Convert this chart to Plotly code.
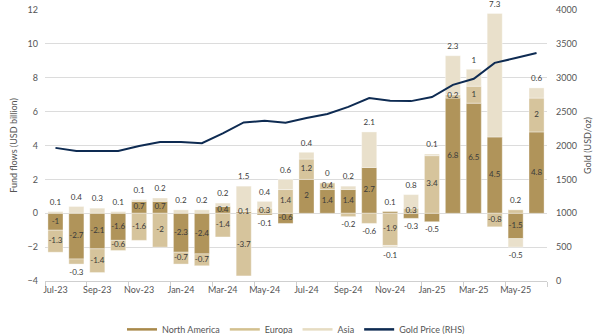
import plotly.graph_objects as go

months = ["Jul-23", "Aug-23", "Sep-23", "Oct-23", "Nov-23", "Dec-23",
          "Jan-24", "Feb-24", "Mar-24", "Apr-24", "May-24", "Jun-24",
          "Jul-24", "Aug-24", "Sep-24", "Oct-24", "Nov-24", "Dec-24",
          "Jan-25", "Feb-25", "Mar-25", "Apr-25", "May-25", "Jun-25"]
north_america = [-1, -2.7, -2.1, -1.6, 0.7, 0.7, -2.3, -2.4, 0.4, 0.1, -0.1, -0.6,
                 2, 1.4, 1.4, 2.7, 0.1, -0.3, -0.5, 6.8, 6.5, 4.5, -1.5, 4.8]
europa = [-1.3, -0.3, -1.4, -0.6, -1.6, -2, -0.7, -0.7, -1.4, -3.7, 0.3, 1.4,
          1.2, 0.4, -0.2, -0.6, -1.9, 0.3, 3.4, 0.2, 1, -0.8, 0.2, 2]
asia = [0.1, 0.4, 0.3, 0.1, 0.1, 0.2, 0.2, 0.2, 0.2, 1.5, 0.4, 0.6,
        0.4, 0, 0.2, 2.1, -0.1, 0.8, 0.1, 2.3, 1, 7.3, -0.5, 0.6]
gold_price = [1965, 1920, 1918, 1918, 1993, 2050, 2050, 2035, 2180, 2340, 2365, 2335,
              2405, 2465, 2570, 2700, 2660, 2655, 2715, 2895, 2985, 3220, 3290, 3365]

series = [("North America", north_america, "#b0945a", "#a8894a"),
          ("Europa", europa, "#d6c49c", "#d3c08f"),
          ("Asia", asia, "#e9e0cb", "#e6dcc2")]

# labels drawn beyond the end of their stack (style choice)
outside_labels = {("North America", "May-24"), ("North America", "Nov-24"),
                  ("North America", "Dec-24"), ("North America", "Jan-25"),
                  ("Europa", "Aug-23"), ("Europa", "Sep-24"), ("Europa", "Oct-24"),
                  ("Europa", "May-25")}

FONT = "Lato"
fig = go.Figure()

pos_base = [0.0] * len(months)
neg_base = [0.0] * len(months)
lab_in_x, lab_in_y, lab_in_t = [], [], []
lab_up_x, lab_up_y, lab_up_t = [], [], []
lab_dn_x, lab_dn_y, lab_dn_t = [], [], []

def fmt(v):
    return ("%g" % v)

for name, vals, col, _ in series:
    fig.add_trace(go.Bar(x=months, y=vals, name=name,
                         marker=dict(color=col, line=dict(width=0.8, color="rgba(255,255,255,0.45)")),
                         showlegend=False, hoverinfo="skip"))
    for i, v in enumerate(vals):
        if v >= 0:
            b = pos_base[i]; t = b + v; pos_base[i] = t
        else:
            b = neg_base[i]; t = b + v; neg_base[i] = t
        outside = name == "Asia" or (name, months[i]) in outside_labels
        if outside:
            if v >= 0:
                lab_up_x.append(months[i]); lab_up_y.append(t); lab_up_t.append(fmt(v))
            else:
                lab_dn_x.append(months[i]); lab_dn_y.append(t); lab_dn_t.append(fmt(v))
        else:
            lab_in_x.append(months[i]); lab_in_y.append((b + t) / 2); lab_in_t.append(fmt(v))

lab_font = dict(family=FONT, size=8, color="#3a3a3a")
fig.add_trace(go.Scatter(x=lab_in_x, y=lab_in_y, text=lab_in_t, mode="text",
                         textposition="middle center", textfont=lab_font,
                         showlegend=False, hoverinfo="skip", cliponaxis=False))
for xs, ys, ts, pos in [(lab_up_x, lab_up_y, lab_up_t, "top center"),
                        (lab_dn_x, lab_dn_y, lab_dn_t, "bottom center")]:
    fig.add_trace(go.Scatter(x=xs, y=ys, text=ts, mode="markers+text", textposition=pos,
                             marker=dict(size=6, color="rgba(0,0,0,0)"),
                             textfont=lab_font, showlegend=False, hoverinfo="skip",
                             cliponaxis=False))

fig.add_trace(go.Scatter(x=months, y=gold_price, mode="lines", yaxis="y2",
                         line=dict(color="#0e2b52", width=2), showlegend=False,
                         hoverinfo="skip"))

for name, _, _, lc in series:
    fig.add_trace(go.Scatter(x=[None], y=[None], mode="lines", name=name,
                             line=dict(color=lc, width=2.5)))
fig.add_trace(go.Scatter(x=[None], y=[None], mode="lines", name="Gold Price (RHS)",
                         line=dict(color="#0e2b52", width=2.5)))

grid = "#dcdcdc"
tick_font = dict(family=FONT, size=9, color="#555555")
fig.update_layout(
    width=600, height=334,
    margin=dict(l=45, r=53, t=10, b=53, autoexpand=False),
    paper_bgcolor="white", plot_bgcolor="white",
    barmode="relative", bargap=0.28,
    font=dict(family=FONT, size=9, color="#555555"),
    xaxis=dict(type="category", range=[-0.5, 23.5], tickson="boundaries", dtick=2,
               tickangle=0,
               ticks="outside", ticklen=5, tickcolor="#cfcfcf", tickwidth=1,
               showline=True, linecolor="#cfcfcf", linewidth=1,
               showgrid=False, tickfont=tick_font, fixedrange=True),
    yaxis=dict(range=[-4, 12], dtick=2, showgrid=True, gridcolor=grid, gridwidth=1.3,
               zeroline=False, showline=False, tickfont=tick_font, ticklabelstandoff=6,
               title=dict(text="Fund flows (USD billion)", font=dict(family=FONT, size=9, color="#555555"),
                          standoff=8)),
    yaxis2=dict(range=[0, 4000], dtick=500, overlaying="y", side="right", showgrid=False,
                zeroline=False, showline=False, tickfont=tick_font, ticklabelstandoff=8,
                title=dict(text="Gold (USD/oz)", font=dict(family=FONT, size=9, color="#555555"),
                           standoff=8)),
    legend=dict(orientation="h", x=0.5, xanchor="center", y=-0.125, yanchor="top",
                font=dict(family=FONT, size=9, color="#555555"), traceorder="normal",
                itemwidth=30, tracegroupgap=0),
)
fig.write_html("out.html")
